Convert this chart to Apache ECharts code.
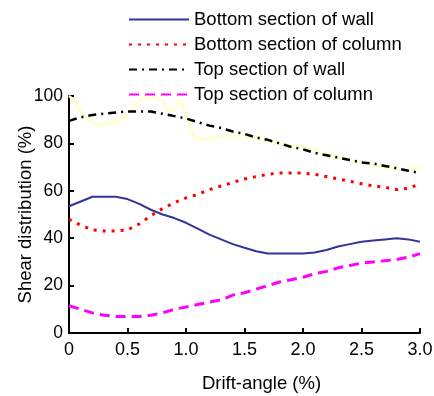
<!DOCTYPE html>
<html><head><meta charset="utf-8">
<script src="https://cdn.jsdelivr.net/npm/echarts@6/dist/echarts.min.js"></script>
<style>html,body{margin:0;padding:0;background:#fff}#c{width:434px;height:396px}</style>
</head><body><div id="c"></div>
<script>
const xs = [0,0.1,0.2,0.3,0.4,0.5,0.6,0.7,0.8,0.9,1.0,1.1,1.2,1.3,1.4,1.5,1.6,1.7,1.8,1.9,2.0,2.1,2.2,2.3,2.4,2.5,2.6,2.7,2.8,2.9,3.0];
const bottomWall = [53.5,55.5,57.5,57.5,57.5,56.5,54.5,52,50,48.5,46.5,44,41.5,39.5,37.5,36,34.5,33.5,33.5,33.5,33.5,34,35,36.5,37.5,38.5,39,39.5,40,39.5,38.5];
const bottomColumn = [48,45.5,43.5,43,43,43.5,46,49.5,52.5,55,57,58.5,60.5,62,63.5,65,66,67,67.5,67.5,67.5,67,66,65,64,63,62,61.5,60.5,61,63];
const topWall = [89.5,91,92,92.5,93,93.5,93.5,93.5,92.5,91.5,90.5,89,87.5,86.5,85,84,82.5,81.5,80,78.5,77.5,76,75,74,73,72,71.5,70.5,69.5,68.5,67.5];
const topColumn = [11.5,10,8.5,7.5,7,7,7,7.5,8.5,10,11,12,13,14,16,17,18.5,20,21.5,22.5,23.5,25,26,27.5,28.5,29.5,30,30.5,31,32,33.5];
const paleX = [0,0.05,0.12,0.2,0.27,0.35,0.45,0.55,0.62,0.72,0.8,0.85,0.9,0.95,1.0,1.05,1.1,1.2,1.3,1.45,1.6,1.8,2.0,2.2,2.4,2.6,2.8,2.9,3.0];
const paleY = [100,98,92,89,87.5,89,89.5,95,99,99.5,98,93,95,98.5,93,85,81.5,82,83,83.5,82,80,78.5,75.5,73,71,69,69.5,69.5];
const names = ['Bottom section of wall','Bottom section of column','Top section of wall','Top section of column'];
const xTicks = [0,0.5,1.0,1.5,2.0,2.5,3.0];
const yTicks = [0,20,40,60,80,100];

const pair = (a,b)=>a.map((v,i)=>[v,b[i]]);
const chart = echarts.init(document.getElementById('c'));
const font = 'Liberation Sans, Arial, sans-serif';
chart.setOption({
  animation:false,
  backgroundColor:'#fff',
  grid:{left:69,right:14,top:96,bottom:63,containLabel:false,outerBoundsMode:'none'},
  legend:{
    orient:'vertical', left:123, top:5, itemWidth:60, itemHeight:14, itemGap:6,
    padding:5,
    data:names,
    itemStyle:{opacity:0},
    textStyle:{fontFamily:font,fontSize:18.5,color:'#000'}
  },
  xAxis:{
    type:'value', min:xTicks[0], max:xTicks[xTicks.length-1], interval:0.5,
    name:'Drift-angle (%)', nameLocation:'middle', nameGap:41, nameMoveOverlap:false,
    nameTextStyle:{fontFamily:font,fontSize:18.5,color:'#000',padding:[0,0,0,34]},
    axisLine:{show:true,lineStyle:{color:'#000',width:2}},
    axisTick:{show:true,inside:true,length:5,lineStyle:{color:'#000',width:2}},
    axisLabel:{fontFamily:font,fontSize:18,color:'#000',margin:8,
      formatter:v=>v===0?'0':v.toFixed(1)},
    splitLine:{show:false}
  },
  yAxis:{
    type:'value', min:yTicks[0], max:yTicks[yTicks.length-1], interval:20,
    name:'Shear distribution (%)', nameLocation:'middle', nameGap:34, nameMoveOverlap:false,
    nameTextStyle:{fontFamily:font,fontSize:18.5,color:'#000'},
    axisLine:{show:true,lineStyle:{color:'#000',width:2}},
    axisTick:{show:true,inside:true,length:5,lineStyle:{color:'#000',width:2}},
    axisLabel:{fontFamily:font,fontSize:17.5,color:'#000',margin:6},
    splitLine:{show:false}
  },
  series:[
    {type:'line',name:'pale',data:pair(paleX,paleY),symbol:'none',silent:true,
      lineStyle:{color:'#ffffc8',width:2.5},itemStyle:{color:'#ffffc8'},z:1},
    {type:'line',name:names[0],data:pair(xs,bottomWall),symbol:'none',
      lineStyle:{color:'#333399',width:2},itemStyle:{color:'#333399'},z:3},
    {type:'line',name:names[1],data:pair(xs,bottomColumn),symbol:'none',
      lineStyle:{color:'#ff0000',width:3,type:[3,6]},itemStyle:{color:'#ff0000'},z:3},
    {type:'line',name:names[2],data:pair(xs,topWall),symbol:'none',
      lineStyle:{color:'#000',width:2.5,type:[8,5,2,5]},itemStyle:{color:'#000'},z:3},
    {type:'line',name:names[3],data:pair(xs,topColumn),symbol:'none',
      lineStyle:{color:'#ff00ff',width:3,type:[10,6]},itemStyle:{color:'#ff00ff'},z:3}
  ]
});
</script></body></html>
